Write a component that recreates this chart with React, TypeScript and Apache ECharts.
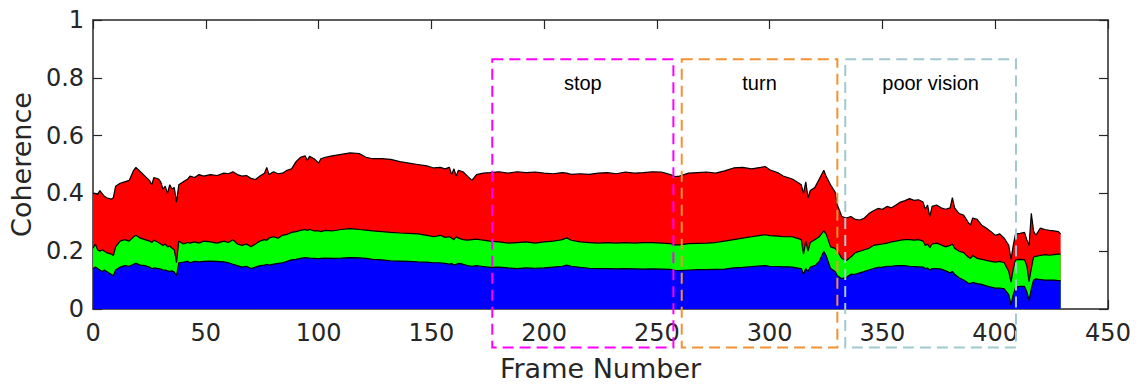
import React, { useEffect, useRef } from "react";
import * as echarts from "echarts";

// Frame numbers sampled along the x axis
const frames = [
  0, 1, 2, 3, 4, 5, 6, 8, 9, 10, 12, 14, 16, 18, 19, 21, 23, 25, 26, 27, 29, 30, 31, 32, 33, 34, 35, 36, 37, 38,
  40, 42, 43, 45, 47, 49, 52, 55, 58, 60, 62, 64, 66, 68, 70, 72, 74, 76, 77, 78, 80, 82, 84, 86, 88, 90, 92, 94, 95, 96,
  98, 100, 101, 103, 106, 110, 114, 118, 121, 124, 128, 132, 136, 140, 144, 148, 151, 154, 156, 158, 159, 160, 161, 162, 164, 166, 168, 170, 173, 176,
  180, 184, 188, 192, 196, 200, 204, 208, 210, 212, 216, 220, 224, 228, 232, 236, 240, 244, 248, 252, 256, 258, 260, 264, 268, 272, 276, 280, 284, 288,
  292, 296, 298, 300, 304, 306, 308, 310, 312, 314, 315, 316, 317, 318, 320, 322, 324, 325, 327, 329, 330, 332, 334, 336, 338, 340, 342, 344, 346, 348,
  350, 352, 354, 356, 358, 360, 362, 364, 366, 368, 369, 370, 371, 372, 374, 376, 378, 380, 381, 382, 384, 386, 388, 389, 390, 392, 394, 396, 398, 400,
  402, 404, 406, 407, 408, 409, 411, 413, 414, 415, 416, 417, 418, 420, 422, 424, 426, 428, 429,
];

// Top of the blue layer (cumulative coherence)
const blueTop = [
  0.14, 0.145, 0.14, 0.135, 0.13, 0.135, 0.13, 0.12, 0.115, 0.135, 0.145, 0.15, 0.148, 0.155, 0.158, 0.152, 0.15, 0.145, 0.14, 0.142, 0.14, 0.138, 0.135, 0.135, 0.132, 0.13, 0.132, 0.128, 0.115, 0.16,
  0.162, 0.165, 0.16, 0.165, 0.163, 0.165, 0.166, 0.165, 0.163, 0.16, 0.155, 0.15, 0.145, 0.148, 0.14, 0.145, 0.15, 0.152, 0.155, 0.152, 0.155, 0.158, 0.16, 0.165, 0.17, 0.172, 0.175, 0.178, 0.177, 0.176,
  0.175, 0.174, 0.175, 0.176, 0.175, 0.176, 0.178, 0.177, 0.175, 0.172, 0.17, 0.167, 0.166, 0.165, 0.163, 0.162, 0.16, 0.16, 0.158, 0.155, 0.157, 0.152, 0.155, 0.158, 0.155, 0.15, 0.148, 0.15, 0.147, 0.144,
  0.145, 0.142, 0.14, 0.142, 0.141, 0.142, 0.145, 0.148, 0.152, 0.148, 0.144, 0.141, 0.14, 0.14, 0.139, 0.14, 0.139, 0.138, 0.139, 0.138, 0.137, 0.134, 0.133, 0.135, 0.136, 0.136, 0.137, 0.138, 0.142, 0.144,
  0.147, 0.149, 0.15, 0.148, 0.147, 0.146, 0.146, 0.145, 0.142, 0.14, 0.12, 0.14, 0.13, 0.145, 0.15, 0.165, 0.2, 0.185, 0.14, 0.13, 0.115, 0.105, 0.11, 0.12, 0.121, 0.125, 0.13, 0.135, 0.14, 0.144,
  0.145, 0.148, 0.148, 0.15, 0.15, 0.15, 0.148, 0.147, 0.146, 0.145, 0.14, 0.142, 0.135, 0.14, 0.14, 0.138, 0.132, 0.125, 0.13, 0.12, 0.108, 0.1, 0.09, 0.088, 0.092, 0.088, 0.085, 0.08, 0.076, 0.072,
  0.072, 0.07, 0.05, 0.014, 0.05, 0.075, 0.078, 0.078, 0.06, 0.03, 0.07, 0.1, 0.104, 0.102, 0.1, 0.1, 0.1, 0.098, 0.098,
];

// Top of the green layer (cumulative coherence)
const greenTop = [
  0.21, 0.225, 0.205, 0.2, 0.205, 0.2, 0.195, 0.19, 0.185, 0.215, 0.235, 0.24, 0.235, 0.25, 0.255, 0.245, 0.24, 0.235, 0.23, 0.238, 0.23, 0.225, 0.22, 0.225, 0.215, 0.218, 0.21, 0.205, 0.16, 0.235,
  0.225, 0.23, 0.228, 0.232, 0.228, 0.235, 0.232, 0.228, 0.235, 0.23, 0.24, 0.225, 0.22, 0.225, 0.215, 0.225, 0.235, 0.24, 0.238, 0.245, 0.25, 0.245, 0.255, 0.258, 0.265, 0.268, 0.272, 0.275, 0.272, 0.275,
  0.27, 0.27, 0.268, 0.272, 0.27, 0.275, 0.278, 0.275, 0.273, 0.27, 0.268, 0.265, 0.263, 0.262, 0.26, 0.255, 0.25, 0.255, 0.248, 0.25, 0.245, 0.24, 0.25, 0.245, 0.24, 0.238, 0.24, 0.242, 0.238, 0.235,
  0.232, 0.228, 0.23, 0.232, 0.228, 0.232, 0.235, 0.24, 0.246, 0.238, 0.232, 0.23, 0.228, 0.23, 0.228, 0.23, 0.228, 0.23, 0.23, 0.228, 0.226, 0.222, 0.222, 0.226, 0.227, 0.228, 0.23, 0.235, 0.24, 0.245,
  0.25, 0.255, 0.257, 0.254, 0.252, 0.25, 0.25, 0.25, 0.245, 0.24, 0.19, 0.235, 0.2, 0.23, 0.24, 0.25, 0.27, 0.26, 0.215, 0.21, 0.2, 0.175, 0.168, 0.18, 0.195, 0.2, 0.205, 0.21, 0.22, 0.223,
  0.225, 0.228, 0.232, 0.235, 0.238, 0.24, 0.24, 0.238, 0.24, 0.235, 0.22, 0.225, 0.212, 0.225, 0.228, 0.222, 0.215, 0.22, 0.225, 0.21, 0.2, 0.195, 0.18, 0.175, 0.185, 0.175, 0.172, 0.168, 0.165, 0.162,
  0.165, 0.16, 0.13, 0.093, 0.14, 0.17, 0.172, 0.17, 0.15, 0.095, 0.14, 0.18, 0.182, 0.185, 0.188, 0.186, 0.188, 0.19, 0.19,
];

// Top of the red layer (total coherence)
const redTop = [
  0.4, 0.4, 0.395, 0.41, 0.4, 0.39, 0.385, 0.38, 0.385, 0.425, 0.435, 0.44, 0.445, 0.48, 0.49, 0.475, 0.46, 0.445, 0.43, 0.455, 0.45, 0.44, 0.415, 0.425, 0.4, 0.43, 0.415, 0.42, 0.37, 0.43,
  0.44, 0.45, 0.46, 0.455, 0.465, 0.46, 0.465, 0.462, 0.47, 0.468, 0.475, 0.465, 0.46, 0.462, 0.452, 0.448, 0.46, 0.47, 0.49, 0.465, 0.475, 0.468, 0.47, 0.48, 0.485, 0.51, 0.525, 0.53, 0.515, 0.528,
  0.52, 0.505, 0.52, 0.525, 0.53, 0.535, 0.54, 0.538, 0.525, 0.52, 0.52, 0.518, 0.51, 0.505, 0.5, 0.495, 0.488, 0.49, 0.485, 0.49, 0.465, 0.485, 0.46, 0.48, 0.475, 0.46, 0.445, 0.465, 0.47, 0.472,
  0.475, 0.47, 0.475, 0.472, 0.474, 0.47, 0.468, 0.472, 0.47, 0.466, 0.468, 0.466, 0.47, 0.472, 0.468, 0.474, 0.47, 0.472, 0.475, 0.474, 0.465, 0.458, 0.46, 0.47, 0.472, 0.474, 0.47, 0.478, 0.488, 0.49,
  0.485, 0.49, 0.493, 0.482, 0.47, 0.46, 0.455, 0.45, 0.44, 0.43, 0.4, 0.44, 0.385, 0.41, 0.42, 0.45, 0.48, 0.46, 0.43, 0.405, 0.36, 0.32, 0.315, 0.32, 0.31, 0.308, 0.315, 0.33, 0.34, 0.348,
  0.345, 0.355, 0.35, 0.36, 0.37, 0.375, 0.382, 0.376, 0.378, 0.37, 0.345, 0.36, 0.32, 0.355, 0.36, 0.35, 0.345, 0.35, 0.385, 0.35, 0.33, 0.325, 0.3, 0.29, 0.315, 0.31, 0.29, 0.28, 0.268, 0.255,
  0.26, 0.245, 0.22, 0.172, 0.22, 0.26, 0.262, 0.265, 0.24, 0.22, 0.331, 0.27, 0.255, 0.28, 0.275, 0.272, 0.27, 0.268, 0.26,
];

// Annotated regions (data units: frame range, coherence range)
const regionLabels = ["stop", "turn", "poor vision"];
const regionStart = [177, 261, 333.5];
const regionEnd = [257.3, 330, 409.2];
const regionColors = ["#ff00ff", "#f29233", "#a2c8cf"];
const regionTop = 0.864;
const regionBottom = -0.133;
const regionLabelY = 0.782;

const FONT = '"DejaVu Sans", Verdana, sans-serif';
const AXIS_COLOR = "#262626";

export default function App() {
  const ref = useRef<HTMLDivElement>(null);

  useEffect(() => {
    if (!ref.current) return;
    const chart = echarts.init(ref.current, undefined, { renderer: "svg" });
    const n = Math.min(frames.length, blueTop.length, greenTop.length, redTop.length);
    const pts = (arr: number[]) => frames.slice(0, n).map((f, i) => [f, arr[i]]);

    const mkSeries = (name: string, color: string, arr: number[]) => ({
      name,
      type: "line",
      data: pts(arr),
      symbol: "none",
      showSymbol: false,
      lineStyle: { color: "#000", width: 1.2 },
      itemStyle: { color },
      areaStyle: { color, opacity: 1 },
      emphasis: { disabled: true },
      z: 2,
    });

    const tickCommon = {
      axisLine: { show: true, onZero: false, lineStyle: { color: AXIS_COLOR, width: 1.5 } },
      axisTick: { show: true, inside: true, length: 9, lineStyle: { color: AXIS_COLOR, width: 1.2 } },
      splitLine: { show: false },
    };

    chart.setOption({
      animation: false,
      grid: { left: 92, right: 33, top: 20, bottom: 73, containLabel: false },
      xAxis: [
        {
          type: "value",
          min: 0,
          max: 450,
          interval: 50,
          position: "bottom",
          ...tickCommon,
          axisLabel: { fontSize: 24, color: AXIS_COLOR, fontFamily: FONT, margin: 12 },
          name: "Frame Number",
          nameLocation: "middle",
          nameGap: 46,
          nameTextStyle: { fontSize: 27, color: AXIS_COLOR, fontFamily: FONT },
        },
        {
          type: "value",
          min: 0,
          max: 450,
          interval: 50,
          position: "top",
          ...tickCommon,
          axisLabel: { show: false },
        },
      ],
      yAxis: [
        {
          type: "value",
          min: 0,
          max: 1,
          interval: 0.2,
          position: "left",
          ...tickCommon,
          axisLabel: { fontSize: 24, color: AXIS_COLOR, fontFamily: FONT, margin: 9 },
          name: "Coherence",
          nameLocation: "middle",
          nameGap: 58,
          nameTextStyle: { fontSize: 27, color: AXIS_COLOR, fontFamily: FONT },
        },
        {
          type: "value",
          min: 0,
          max: 1,
          interval: 0.2,
          position: "right",
          ...tickCommon,
          axisLabel: { show: false },
        },
      ],
      series: [
        mkSeries("total", "#ff0000", redTop),
        mkSeries("mid", "#00ff00", greenTop),
        mkSeries("base", "#0000ff", blueTop),
      ],
    });

    const toPx = (x: number, y: number) =>
      chart.convertToPixel({ xAxisIndex: 0, yAxisIndex: 0 }, [x, y]) as number[];

    const graphic: any[] = [];
    regionLabels.forEach((label, i) => {
      const [x0, y0] = toPx(regionStart[i], regionTop);
      const [x1, y1] = toPx(regionEnd[i], regionBottom);
      const ly = toPx(0, regionLabelY)[1];
      graphic.push({
        type: "rect",
        shape: { x: x0, y: y0, width: x1 - x0, height: y1 - y0 },
        style: { fill: "none", stroke: regionColors[i], lineWidth: 2, lineDash: [11, 6] },
        z: 100,
        silent: true,
      });
      graphic.push({
        type: "text",
        x: (x0 + x1) / 2,
        y: ly,
        style: {
          text: label,
          fill: "#000",
          font: '20px "Liberation Sans", Arial, sans-serif',
          textAlign: "center",
          align: "center",
          textVerticalAlign: "middle",
          verticalAlign: "middle",
        },
        z: 101,
        silent: true,
      });
    });
    chart.setOption({ graphic });

    return () => chart.dispose();
  }, []);

  return (
    <div
      ref={ref}
      style={{ position: "fixed", left: 0, top: 0, width: 1141, height: 387, background: "#fff" }}
    />
  );
}
